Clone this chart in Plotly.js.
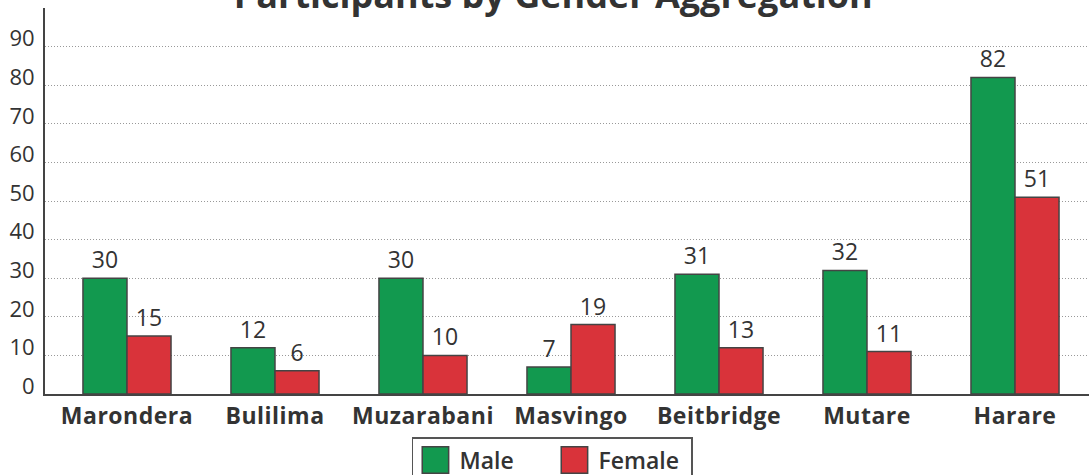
<!DOCTYPE html>
<html>
<head>
<meta charset="utf-8">
<script src="https://cdn.plot.ly/plotly-3.0.1.min.js"></script>
<style>html,body{margin:0;padding:0;background:#fff;}#chart{width:1089px;height:475px;}
.xtick text{letter-spacing:0.5px;}</style>
</head>
<body>
<div id="chart"></div>
<script>
const categories = ["Marondera", "Bulilima", "Muzarabani", "Masvingo", "Beitbridge", "Mutare", "Harare"];
const maleValues = [30, 12, 30, 7, 31, 32, 82];
const femaleValues = [15, 6, 10, 18, 12, 11, 51];
const femaleLabels = ["15", "6", "10", "19", "13", "11", "51"];
const yTicks = [0, 10, 20, 30, 40, 50, 60, 70, 80, 90];

const FONT = "'Open Sans', Lato, sans-serif";
const TXT = "#333333";

const traces = [
  {
    type: "bar", name: "Male", x: categories, y: maleValues,
    text: maleValues.map(String), textposition: "outside", cliponaxis: false,
    textfont: {family: FONT, size: 23, color: TXT},
    marker: {color: "#12994f", line: {color: "#444", width: 1.5}},
    hoverinfo: "none"
  },
  {
    type: "bar", name: "Female", x: categories, y: femaleValues,
    text: femaleLabels, textposition: "outside", cliponaxis: false,
    textfont: {family: FONT, size: 23, color: TXT},
    marker: {color: "#d9333a", line: {color: "#444", width: 1.5}},
    hoverinfo: "none"
  }
];

const layout = {
  width: 1089, height: 475,
  margin: {l: 45, r: 0, t: 8, b: 81, autoexpand: false},
  paper_bgcolor: "#fff", plot_bgcolor: "#fff",
  font: {family: FONT, color: TXT, size: 21},
  title: {
    text: "<b>Participants by Gender Aggregation</b>",
    font: {family: FONT, size: 36, color: TXT},
    x: 0.508, xref: "container", xanchor: "center",
    y: 0.983, yref: "container", yanchor: "bottom"
  },
  barmode: "group", bargap: 0.405, bargroupgap: 0,
  xaxis: {
    range: [-0.554, 6.5],
    showgrid: false, showline: true, linecolor: "#444", linewidth: 2,
    ticks: "", tickfont: {family: FONT, size: 23, color: TXT, weight: 700},
    automargin: false, fixedrange: true
  },
  yaxis: {
    range: [0, 100], tickvals: yTicks, showline: true, linecolor: "#444", linewidth: 2,
    showgrid: true, gridcolor: "#999", gridwidth: 1, griddash: "1px,2px",
    zeroline: false, ticks: "", ticklabelstandoff: 4, ticklabelshift: -8,
    tickfont: {family: FONT, size: 22, color: TXT}, automargin: false, fixedrange: true
  },
  showlegend: true,
  legend: {
    orientation: "h", x: 0.5073, xref: "container", xanchor: "center",
    y: -0.1114, yanchor: "top",
    bordercolor: "#555", borderwidth: 1.5,
    font: {family: FONT, size: 23, color: TXT, weight: 600},
    traceorder: "normal", entrywidth: 94, entrywidthmode: "pixels"
  }
};

Plotly.newPlot("chart", traces, layout, {staticPlot: true, displayModeBar: false}).then(function(gd){
  document.querySelectorAll(".legendpoints path").forEach(function(p){
    p.setAttribute("transform", "translate(22,0) scale(2.2)");
    p.style.strokeWidth = "0.7px";
  });
  document.querySelectorAll(".legendtext").forEach(function(t){
    t.setAttribute("x", "46");
  });
});
</script>
</body>
</html>
